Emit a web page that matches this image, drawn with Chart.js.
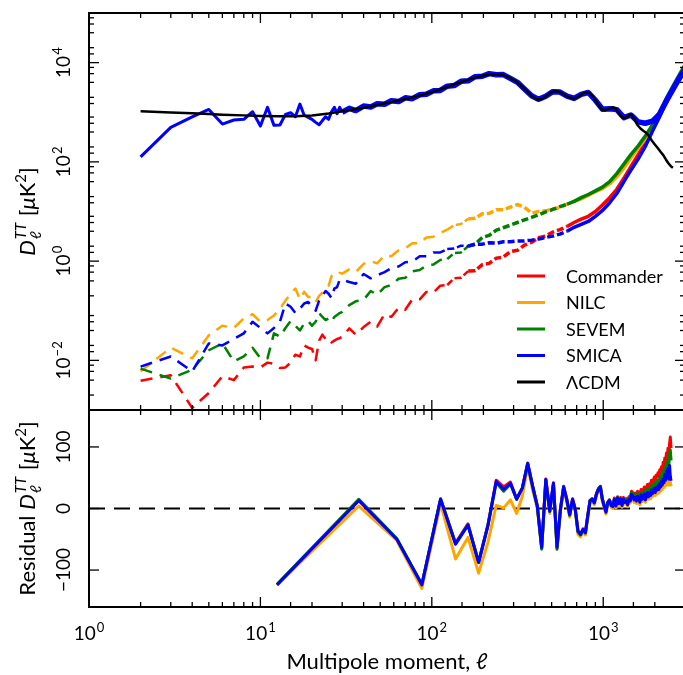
<!DOCTYPE html>
<html>
<head>
<meta charset="utf-8">
<script src="https://cdn.jsdelivr.net/npm/chart.js@4.4.1/dist/chart.umd.min.js"></script>
<style>
  html, body { margin: 0; padding: 0; background: #fff; overflow: hidden; }
  #wrap { width: 683px; height: 675px; overflow: hidden; position: relative; }
  canvas { display: block; }
</style>
</head>
<body>
<div id="wrap"><canvas id="spectra" width="688" height="675"></canvas></div>
<script>
// Planck TT spectra + noise, with binned residuals underneath

const FONT = 'Lato, "Liberation Sans", "DejaVu Sans", sans-serif';

// --- theory curve
const lcdmL = [2, 3, 4, 5, 6, 8, 10, 13, 16, 20, 25, 30, 40, 50, 60, 70, 80, 100, 120, 140,
  160, 180, 200, 220, 240, 260, 280, 300, 320, 350, 380, 410, 440, 470, 500, 530, 560, 600, 640, 680,
  720, 760, 800, 830, 870, 910, 950, 990, 1030, 1080, 1130, 1170, 1220, 1270, 1320, 1370, 1420, 1460, 1520, 1580,
  1650, 1720, 1780, 1850, 1920, 2000, 2080, 2160, 2240, 2320, 2400, 2480, 2550];
const lcdmD = [1050, 990, 950, 920, 895, 865, 845, 830, 830, 860, 940, 1050, 1230, 1450, 1650, 1850, 2050, 2550, 3150, 3800,
  4450, 5050, 5500, 5800, 5850, 5600, 5100, 4500, 3800, 2900, 2150, 1800, 1850, 2200, 2550, 2700, 2550, 2200, 1950, 1900,
  2100, 2400, 2550, 2450, 2100, 1650, 1300, 1120, 1090, 1180, 1260, 1220, 1020, 830, 760, 800, 880, 880, 720, 560,
  470, 420, 385, 330, 270, 225, 190, 160, 137, 112, 94, 82, 76];

// --- SMICA measured spectrum
const smicaL = [2, 3, 4, 5, 6, 7, 8, 9, 10, 11, 12, 13, 14, 15, 16, 17, 18, 19, 20, 21, 22, 23, 24, 25, 26, 27, 28, 29, 30,
  33, 36, 40, 44, 48, 53, 58, 64, 70, 77, 85, 93, 102, 112, 123, 135, 148, 163, 179, 197,
  216, 238, 261, 287, 316, 347, 382, 420, 462, 508, 559, 615, 676, 744, 818, 900, 990, 1090, 1200, 1320,
  1450, 1520, 1600, 1760, 1940, 2130, 2350, 2580, 2840, 3000];
const smicaD = [126, 495, 810, 1140, 578, 697, 720, 1023, 527, 1256, 544, 555, 906, 977, 812, 1462, 870, 790, 720, 625,
  560, 680, 812, 720, 1023, 1256, 940, 1256, 1000,
  1200, 1080, 1330, 1280, 1480, 1450, 1700, 1640, 1950, 1880, 2250, 2300, 2700, 2750, 3350, 3450, 4200, 4300, 5200, 5300,
  6000, 5700, 5750, 4800, 4000, 2950, 2150, 1820, 2100, 2600, 2550, 2120, 1900, 2300, 2500, 1750, 1150, 1180, 1130, 780,
  880, 760, 640, 600, 660, 920, 1750, 3100, 5600, 7200];

// --- noise spectra (half-mission differences)
const noiseL = [2, 3, 4, 5, 6, 7, 8, 9, 10, 11, 12, 13, 14, 15, 16, 17, 18, 19, 20, 21, 22, 23, 24, 25, 26, 27, 28, 29, 30,
  33, 36, 40, 44, 48, 53, 58, 64, 70, 77, 85, 93, 102, 112, 123, 135, 148, 163, 179, 197,
  216, 238, 261, 287, 316, 347, 382, 420, 462, 508, 559, 615, 676, 744, 818, 900, 990, 1090, 1200, 1320,
  1450, 1600, 1760, 1940, 2130, 2350, 2580, 2840, 3000];
const commanderNoise = [0.0039, 0.005, 0.0011, 0.0022, 0.0048, 0.004, 0.0072, 0.0075, 0.0072, 0.009, 0.0085, 0.007, 0.0072, 0.009,
  0.013, 0.012, 0.02, 0.018, 0.017, 0.01, 0.025, 0.033, 0.027, 0.028, 0.023, 0.025, 0.027, 0.028, 0.03,
  0.044, 0.033, 0.047, 0.06, 0.048, 0.085, 0.075, 0.115, 0.105, 0.17, 0.17, 0.24, 0.23, 0.32, 0.33, 0.45, 0.46, 0.63, 0.64, 0.85,
  0.9, 1.15, 1.2, 1.55, 1.65, 2.1, 2.4, 2.95, 3.2, 3.85, 4.3, 5.0, 6.0, 7.0, 8.0, 10, 13.5, 19, 28, 47,
  80, 140, 245, 470, 880, 1800, 3200, 5800, 7500];
const nilcNoise = [0.006, 0.018, 0.011, 0.032, 0.05, 0.045, 0.07, 0.085, 0.06, 0.065, 0.08, 0.11, 0.16, 0.22,
  0.28, 0.17, 0.24, 0.19, 0.19, 0.15, 0.2, 0.23, 0.28, 0.32, 0.5, 0.55, 0.52, 0.58, 0.56,
  0.68, 0.6, 0.88, 1.0, 0.9, 1.3, 1.25, 1.65, 1.8, 2.3, 2.3, 3.0, 3.1, 3.7, 4.3, 5.3, 5.6, 7.1, 7.3, 9.0,
  9.2, 10.8, 10.8, 12.3, 13.8, 12.2, 9.3, 10.0, 10.3, 11.2, 12.0, 14.0, 16.0, 18.0, 21, 25, 29, 36, 50, 75,
  120, 190, 290, 500, 900, 1700, 3100, 5800, 8300];
const sevemNoise = [0.0068, 0.0043, 0.0065, 0.016, 0.022, 0.0095, 0.012, 0.018, 0.011, 0.011, 0.035, 0.03, 0.045, 0.062,
  0.05, 0.04, 0.055, 0.062, 0.05, 0.06, 0.09, 0.075, 0.065, 0.07, 0.06, 0.075, 0.082, 0.09, 0.095,
  0.13, 0.155, 0.165, 0.25, 0.21, 0.3, 0.33, 0.44, 0.46, 0.62, 0.66, 0.82, 0.85, 1.05, 1.1, 1.45, 1.5, 2.0, 2.2, 3.0,
  3.3, 4.2, 4.7, 5.3, 6.0, 6.8, 7.6, 8.6, 9.8, 11.0, 12.5, 14, 16, 19, 22, 26, 31, 40, 58, 90,
  140, 210, 330, 560, 1000, 2000, 3600, 6500, 9000];
const smicaNoise = [0.0075, 0.012, 0.006, 0.022, 0.02, 0.027, 0.035, 0.06, 0.045, 0.035, 0.045, 0.06, 0.14, 0.12,
  0.09, 0.11, 0.14, 0.15, 0.12, 0.1, 0.16, 0.2, 0.25, 0.22, 0.18, 0.28, 0.3, 0.42, 0.42,
  0.38, 0.35, 0.55, 0.45, 0.52, 0.6, 0.72, 0.78, 0.95, 0.98, 1.25, 1.25, 1.5, 1.5, 1.75, 1.8, 2.05, 2.0, 2.2, 2.2,
  2.35, 2.3, 2.45, 2.45, 2.55, 2.55, 2.65, 2.8, 3.0, 3.2, 3.5, 4.0, 4.8, 5.5, 6.3, 8.0, 10.5, 15, 23, 40,
  68, 115, 205, 420, 800, 1700, 3000, 5000, 7000];

// --- binned residuals (data - LCDM), bins of 25
const residL = [12.5, 37.5, 62.5, 87.5, 112.5, 137.5, 162.5, 187.5, 212.5, 237.5,
  262.5, 287.5, 312.5, 337.5, 362.5, 387.5, 412.5, 437.5, 462.5, 487.5,
  512.5, 537.5, 562.5, 587.5, 612.5, 637.5, 662.5, 687.5, 712.5, 737.5,
  762.5, 787.5, 812.5, 837.5, 862.5, 887.5, 912.5, 937.5, 962.5, 987.5,
  1012.5, 1037.5, 1062.5, 1087.5, 1112.5, 1137.5, 1162.5, 1187.5, 1212.5, 1237.5,
  1262.5, 1287.5, 1312.5, 1337.5, 1362.5, 1387.5, 1412.5, 1437.5, 1462.5, 1487.5,
  1512.5, 1537.5, 1562.5, 1587.5, 1612.5, 1637.5, 1662.5, 1687.5, 1712.5, 1737.5,
  1762.5, 1787.5, 1812.5, 1837.5, 1862.5, 1887.5, 1912.5, 1937.5, 1962.5, 1987.5,
  2012.5, 2037.5, 2062.5, 2087.5, 2112.5, 2137.5, 2162.5, 2187.5, 2212.5, 2237.5,
  2262.5, 2287.5, 2312.5, 2337.5, 2362.5, 2387.5, 2412.5, 2437.5, 2462.5, 2487.5];
const commanderRes = [-124, 13, -50, -124, 15, -56, -25, -87, -27, 46,
  35, 43, 16, 34, 74, 37, 5, -62, 48, -3,
  42, -62, -1, 36, 16, -9, 16, -1, -36, -41,
  -33, -38, -11, 13, 16, 10, 24, 32, 36, 16,
  5, -5, 10, 14, 7, 5, 17, 6, 19, 11,
  18, 8, 18, 14, 16, 10, 19, 17, 28, 26,
  21, 25, 20, 28, 26, 19, 31, 25, 30, 35,
  26, 33, 39, 33, 40, 37, 46, 41, 46, 51,
  45, 54, 51, 58, 53, 63, 58, 68, 63, 75,
  69, 82, 75, 90, 82, 98, 86, 105, 116, 98];
const nilcRes = [-124, 4, -52, -130, 8, -82, -47, -105, -55, 5,
  1, 14, -8, 20, 68, 30, 0, -65, 44, -8,
  38, -66, -6, 32, 12, -14, 12, -5, -42, -46,
  -38, -43, -15, 9, 12, 6, 20, 28, 32, 12,
  1, -9, 6, 10, 2, 0, 12, 1, 14, 5,
  12, 2, 12, 7, 9, 3, 12, 9, 19, 16,
  10, 14, 8, 16, 13, 6, 18, 11, 15, 20,
  10, 16, 21, 15, 20, 16, 25, 19, 23, 27,
  21, 28, 24, 30, 25, 33, 28, 36, 31, 39,
  34, 45, 37, 50, 40, 54, 38, 58, 42, 36];
const sevemRes = [-123, 15, -49, -123, 16, -57, -26, -87, -27, 42,
  28, 40, 15, 33, 73, 36, 3, -66, 46, -5,
  40, -66, -3, 35, 14, -11, 14, -3, -38, -43,
  -35, -40, -12, 13, 16, 10, 24, 32, 36, 16,
  5, -5, 10, 14, 6, 4, 16, 5, 18, 9,
  16, 6, 16, 11, 14, 8, 17, 14, 26, 23,
  17, 21, 16, 24, 21, 14, 26, 20, 24, 29,
  20, 26, 32, 26, 32, 28, 37, 32, 36, 41,
  35, 43, 39, 46, 41, 50, 45, 54, 49, 60,
  54, 67, 60, 74, 66, 80, 70, 86, 95, 78];
const smicaRes = [-124, 13, -50, -124, 15, -58, -27, -88, -28, 44,
  31, 41, 15, 33, 73, 36, 4, -63, 47, -4,
  41, -63, -2, 35, 15, -10, 15, -2, -37, -42,
  -34, -39, -12, 12, 15, 9, 23, 31, 35, 15,
  4, -6, 9, 13, 5, 3, 15, 4, 17, 8,
  15, 5, 15, 10, 12, 6, 15, 12, 23, 20,
  14, 18, 12, 20, 17, 10, 22, 15, 19, 24,
  14, 20, 26, 19, 25, 21, 30, 24, 28, 33,
  26, 34, 30, 37, 31, 40, 35, 44, 38, 48,
  42, 55, 46, 60, 50, 65, 48, 70, 52, 45];

const zeroL = [1, 3000];
const zeroV = [0, 0];
const residTicks = [-100, 0, 100];

const legendLabels = ['Commander', 'NILC', 'SEVEM', 'SMICA', '\u039BCDM'];
const legendColors = ['#ff0000', '#ffa500', '#008000', '#0000ff', '#000000'];

const pts = (xs, ys) => xs.map((v, i) => ({ x: v, y: ys[i] }));

// dashed at low l, tighter further out, solid (and a bit fatter, like the
// unbinned scatter) once the noise gets dense
const noiseDash = ctx => ctx.p0.parsed.x < 120 ? [12, 8] : (ctx.p0.parsed.x < 600 ? [7, 3] : []);
const noiseWidth = ctx => ctx.p0.parsed.x < 150 ? 2.5 : 3.5;

function noiseSet(label, ys, color) {
    return {
        label: label, data: pts(noiseL, ys), yAxisID: 'yTop',
        borderColor: color, borderWidth: 2.5, borderDash: [12, 8],
        segment: { borderDash: noiseDash, borderWidth: noiseWidth }
    };
}
function residSet(label, ys, color) {
    return { label: label, data: pts(residL, ys), yAxisID: 'yBot', borderColor: color, borderWidth: 3 };
}

// first dataset is drawn last (on top)
const datasets = [
    { label: 'LCDM', data: pts(lcdmL, lcdmD), yAxisID: 'yTop', borderColor: '#000', borderWidth: 2.5 },
    { label: 'SMICA', data: pts(smicaL, smicaD), yAxisID: 'yTop', borderColor: legendColors[3], borderWidth: 3,
      segment: { borderWidth: ctx => ctx.p0.parsed.x < 30 ? 3 : 5.5 } },
    noiseSet('SMICA noise', smicaNoise, legendColors[3]),
    noiseSet('SEVEM noise', sevemNoise, legendColors[2]),
    noiseSet('NILC noise', nilcNoise, legendColors[1]),
    noiseSet('Commander noise', commanderNoise, legendColors[0]),
    residSet('SMICA res', smicaRes, legendColors[3]),
    residSet('SEVEM res', sevemRes, legendColors[2]),
    residSet('NILC res', nilcRes, legendColors[1]),
    residSet('Commander res', commanderRes, legendColors[0]),
    { label: 'zero', data: pts(zeroL, zeroV), yAxisID: 'yBot', borderColor: '#000', borderWidth: 2, borderDash: [16, 9] }
];

function decade(v) {
    const e = Math.floor(Math.log10(v) + 1e-9);
    return { e: e, m: Math.round(v / Math.pow(10, e)) };
}

// "10" with a raised exponent, centred on x, baseline y
function powLabel(ctx, exp, x, y, size) {
    const base = '10', sup = String(exp).replace('-', '\u2212');
    const small = Math.round(size * 0.7);
    ctx.font = size + 'px ' + FONT;
    const wb = ctx.measureText(base).width;
    ctx.font = small + 'px ' + FONT;
    const ws = ctx.measureText(sup).width;
    const x0 = x - (wb + ws + 1) / 2;
    ctx.font = size + 'px ' + FONT;
    ctx.fillText(base, x0, y);
    ctx.font = small + 'px ' + FONT;
    ctx.fillText(sup, x0 + wb + 1, y - size * 0.42);
}

// rotated "prefix D_l^TT [uK^2]"
function yTitle(ctx, cx, cy, prefix) {
    const big = '22px ' + FONT, bigIt = 'italic 22px ' + FONT;
    const sm = '15px ' + FONT, smIt = 'italic 15px ' + FONT;
    const parts = [
        { t: prefix, f: big, dy: 0 },
        { t: 'D', f: bigIt, dy: 0 },
        { t: 'TT', f: smIt, dy: -9, sub: '\u2113' },
        { t: ' [', f: big, dy: 0 },
        { t: '\u03BC', f: bigIt, dy: 0 },
        { t: 'K', f: big, dy: 0 },
        { t: '2', f: sm, dy: -9 },
        { t: ']', f: big, dy: 0 }
    ];
    let total = 0;
    parts.forEach(p => {
        ctx.font = p.f;
        p.w = ctx.measureText(p.t).width;
        if (p.sub) p.w = Math.max(p.w, ctx.measureText(p.sub).width) + 2;
        total += p.w;
    });
    ctx.save();
    ctx.translate(cx, cy);
    ctx.rotate(-Math.PI / 2);
    let x = -total / 2;
    parts.forEach(p => {
        ctx.font = p.f;
        ctx.fillText(p.t, x + (p.sub ? 1 : 0), 8 + p.dy);
        if (p.sub) ctx.fillText(p.sub, x + 1, 8 + 6);
        x += p.w;
    });
    ctx.restore();
}

function seg(ctx, x1, y1, x2, y2) {
    ctx.beginPath(); ctx.moveTo(x1, y1); ctx.lineTo(x2, y2); ctx.stroke();
}

// matplotlib-like frame: inward ticks on every side, rotated y labels, legend
const panelFrame = {
    id: 'panelFrame',
    afterDraw(chart) {
        const ctx = chart.ctx;
        const xs = chart.scales.x, yT = chart.scales.yTop, yB = chart.scales.yBot;
        ctx.save();
        ctx.strokeStyle = '#000';
        ctx.fillStyle = '#000';
        ctx.textAlign = 'left';
        ctx.textBaseline = 'alphabetic';
        ctx.lineWidth = 1.3;

        xs.ticks.forEach(t => {
            if (t.value >= xs.max) return;
            const d = decade(t.value);
            const len = d.m === 1 ? 10 : 5;
            const px = xs.getPixelForValue(t.value);
            [yT, yB].forEach(ys => {
                seg(ctx, px, ys.top, px, ys.top + len);
                seg(ctx, px, ys.bottom, px, ys.bottom - len);
            });
            if (d.m === 1) powLabel(ctx, d.e, px, 640, 19);
        });

        yT.ticks.forEach(t => {
            const d = decade(t.value);
            let len = 0;
            if (d.m === 1 && Math.abs(d.e) % 2 === 0) len = 10;
            else if ([2, 4, 6, 8].includes(d.m)) len = 5;
            if (!len) return;
            const py = yT.getPixelForValue(t.value);
            seg(ctx, xs.left, py, xs.left + len, py);
            seg(ctx, xs.right, py, xs.right - len, py);
            if (len === 10) {
                ctx.save();
                ctx.translate(70, py);
                ctx.rotate(-Math.PI / 2);
                powLabel(ctx, d.e, 0, 0, 19);
                ctx.restore();
            }
        });

        residTicks.forEach(v => {
            const py = yB.getPixelForValue(v);
            seg(ctx, xs.left, py, xs.left + 10, py);
            seg(ctx, xs.right, py, xs.right - 10, py);
            ctx.save();
            ctx.translate(70, py);
            ctx.rotate(-Math.PI / 2);
            ctx.font = '19px ' + FONT;
            ctx.textAlign = 'center';
            ctx.fillText(String(v).replace('-', '\u2212'), 0, 0);
            ctx.restore();
        });

        ctx.lineWidth = 2;
        ctx.strokeRect(xs.left, yT.top, xs.right - xs.left, yT.bottom - yT.top);
        ctx.strokeRect(xs.left, yB.top, xs.right - xs.left, yB.bottom - yB.top);

        yTitle(ctx, 27, (yT.top + yT.bottom) / 2, '');
        yTitle(ctx, 27, (yB.top + yB.bottom) / 2, 'Residual ');

        // legend, lower right of the upper panel
        ctx.textBaseline = 'middle';
        ctx.textAlign = 'left';
        ctx.font = '18px ' + FONT;
        legendLabels.forEach((lab, i) => {
            const ly = 276 + i * 26.5;
            ctx.strokeStyle = legendColors[i];
            ctx.lineWidth = 3;
            seg(ctx, 517, ly, 545, ly);
            ctx.fillText(lab, 566, ly + 1);
        });
        ctx.restore();
    }
};

const hidden = { grid: { display: false }, border: { display: false }, ticks: { display: false } };

new Chart(document.getElementById('spectra'), {
    type: 'line',
    data: { datasets: datasets },
    options: {
        responsive: false,
        animation: false,
        devicePixelRatio: 1,
        layout: { padding: { top: 13, right: 3, left: 0, bottom: 0 } },
        plugins: { legend: { display: false }, tooltip: { enabled: false } },
        elements: {
            point: { radius: 0 },
            line: { tension: 0, borderJoinStyle: 'round', borderCapStyle: 'butt' }
        },
        scales: {
            x: {
                type: 'logarithmic', min: 1, max: 3000, ...hidden,
                title: { display: true, text: 'Multipole moment, \u2113', color: '#000',
                         font: { family: FONT, size: 22 }, padding: { top: 0, bottom: 0 } },
                afterFit: s => { s.height = 68; }
            },
            yBot: {
                type: 'linear', position: 'left', stack: 'panels', stackWeight: 197,
                min: -160, max: 160, ...hidden,
                afterFit: s => { s.width = 89; }
            },
            yTop: {
                type: 'logarithmic', position: 'left', stack: 'panels', stackWeight: 397,
                min: 1e-3, max: 1e5, ...hidden,
                afterFit: s => { s.width = 89; }
            }
        }
    },
    plugins: [panelFrame]
});
</script>
</body>
</html>
